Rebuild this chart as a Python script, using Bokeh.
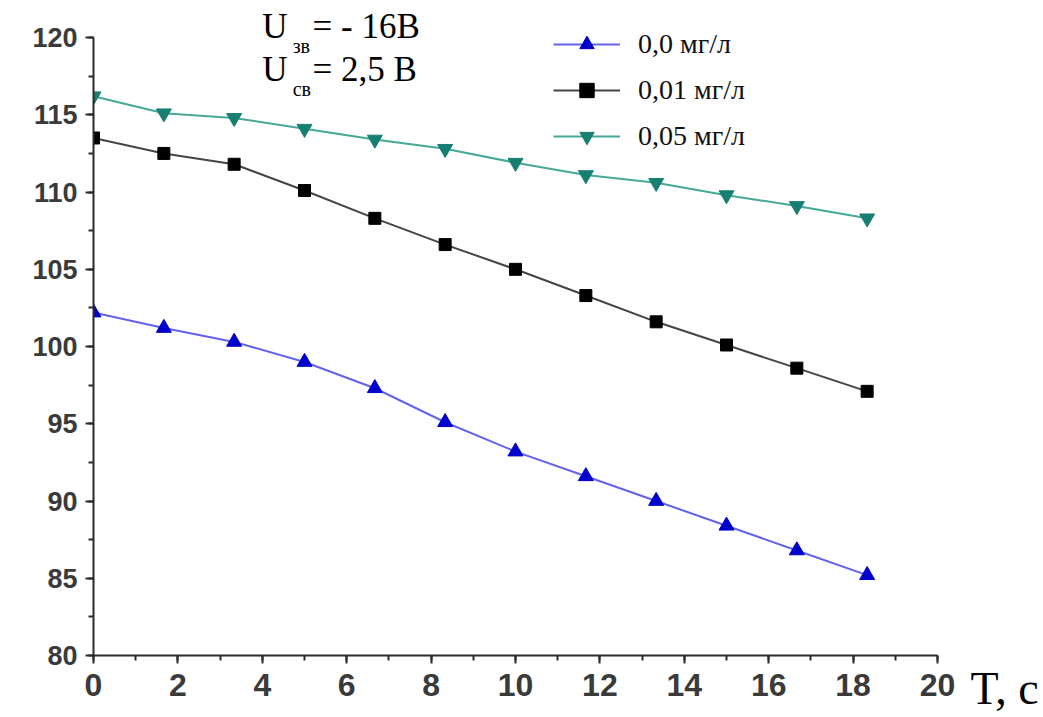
from bokeh.plotting import figure
from bokeh.models import Range1d, Legend, LegendItem, Label, FixedTicker, LinearAxis
from bokeh.embed import file_html
from bokeh.resources import INLINE

t = [0, 1.667, 3.333, 5.0, 6.667, 8.333, 10.0, 11.667, 13.333, 15.0, 16.667, 18.333]
c00 = [102.2, 101.2, 100.3, 99.0, 97.3, 95.1, 93.2, 91.6, 90.0, 88.4, 86.8, 85.2]
c01 = [113.5, 112.5, 111.8, 110.1, 108.3, 106.6, 105.0, 103.3, 101.6, 100.1, 98.6, 97.1]
c05 = [116.2, 115.1, 114.8, 114.1, 113.4, 112.8, 111.9, 111.1, 110.6, 109.8, 109.1, 108.3]
names = ["0,0 мг/л", "0,01 мг/л", "0,05 мг/л"]
x_ticks = list(range(0, 21, 2))
y_ticks = list(range(80, 121, 5))
x_label = "T, c"

p = figure(width=1043, height=717, output_backend="svg", toolbar_location=None,
           x_range=Range1d(0, 20), y_range=Range1d(80, 122.4),
           min_border_left=93, min_border_right=106, min_border_top=0, min_border_bottom=62)
p.outline_line_color = None
p.xgrid.visible = False
p.ygrid.visible = False
p.background_fill_color = "white"
p.border_fill_color = "white"

for ax in (p.xaxis[0], p.yaxis[0]):
    ax.axis_line_width = 2
    ax.axis_line_color = "#2a2a2a"
    ax.major_tick_line_color = "#2a2a2a"
    ax.major_tick_line_width = 2
    ax.minor_tick_line_color = "#2a2a2a"
    ax.minor_tick_line_width = 2
    ax.major_tick_out = 8
    ax.major_tick_in = 0
    ax.minor_tick_out = 5
    ax.minor_tick_in = 0
    ax.major_label_text_font = "Liberation Sans"
    ax.major_label_text_font_style = "bold"
    ax.major_label_text_color = "#3a3a3a"

p.xaxis.bounds = (0, 20)
p.yaxis.bounds = (80, 120)
p.xaxis.ticker = FixedTicker(ticks=x_ticks, minor_ticks=list(range(0, 21)))
p.yaxis.ticker = FixedTicker(ticks=y_ticks, minor_ticks=[80 + 2.5 * i for i in range(17)])
p.xaxis.major_label_text_font_size = "32px"
p.xaxis.major_label_standoff = 10
p.yaxis.major_label_text_font_size = "27px"
p.yaxis.major_label_standoff = 8

# "T, c" beside the last x tick, drawn as a label-only axis on the right
tax = LinearAxis(ticker=FixedTicker(ticks=[80], minor_ticks=[]),
                 major_label_overrides={80: "\u00a0\n" + x_label},
                 axis_line_color=None, major_tick_line_color=None, minor_tick_line_color=None,
                 major_tick_out=0, major_tick_in=0, major_label_standoff=33,
                 major_label_text_font="Liberation Serif", major_label_text_font_size="46px",
                 major_label_text_color="black", major_label_text_line_height=1.3)
p.add_layout(tax, "right")

series = [
    (c00, "#6262ec", "#0000cc", "triangle", 15),
    (c01, "#444444", "#000000", "square", 12),
    (c05, "#45a898", "#177f71", "inverted_triangle", 15),
]
items = []
for (ys, lc, mc, mk, sz), nm in zip(series, names):
    l = p.line(t, ys, line_color=lc, line_width=2)
    s = p.scatter(t, ys, marker=mk, size=sz, fill_color=mc, line_color=mc)
    items.append(LegendItem(label=nm, renderers=[l, s]))

leg = Legend(items=items, location=(460, 501), orientation="vertical",
             label_text_font="Liberation Serif", label_text_font_size="28px",
             label_text_color="#111111", glyph_width=67, glyph_height=36,
             label_standoff=18, spacing=10, padding=0, margin=0,
             border_line_color=None, background_fill_alpha=0)
p.add_layout(leg, "center")

font = "Liberation Serif"
big = "35px"
small = "20px"
common = dict(text_font=font, text_color="black", text_baseline="bottom")
p.add_layout(Label(x=4.0, y=119.44, text="U", text_font_size=big, **common))
p.add_layout(Label(x=4.72, y=118.75, text="зв", text_font_size=small, **common))
p.add_layout(Label(x=5.19, y=119.44, text="= - 16В", text_font_size=big, **common))
p.add_layout(Label(x=4.0, y=116.66, text="U", text_font_size=big, **common))
p.add_layout(Label(x=4.72, y=115.97, text="св", text_font_size=small, **common))
p.add_layout(Label(x=5.19, y=116.66, text="= 2,5 В", text_font_size=big, **common))

open("out.html", "w").write(file_html(p, INLINE))
